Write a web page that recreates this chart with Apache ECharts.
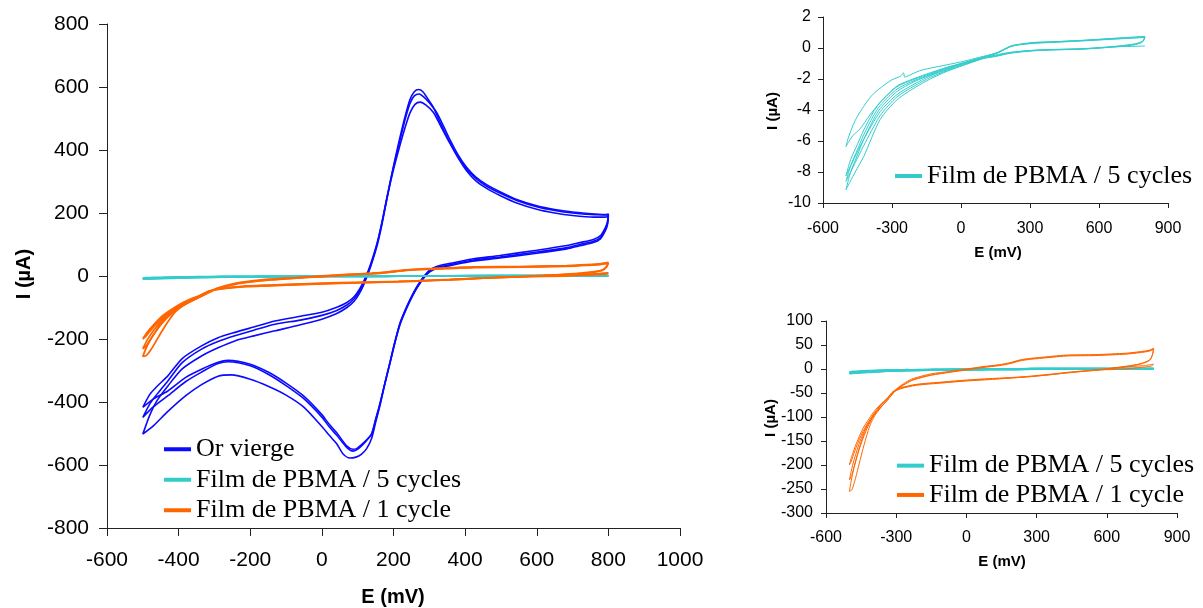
<!DOCTYPE html>
<html>
<head>
<meta charset="utf-8">
<script src="https://cdn.jsdelivr.net/npm/echarts@6/dist/echarts.min.js"></script>
<style>
html,body{margin:0;padding:0;background:#fff;}
#chart{width:1203px;height:608px;}
</style>
</head>
<body>
<div id="chart"></div>
<script>
// ---------- DATA (E in mV, I in µA) ----------
const seriesNames = ['Or vierge', 'Film de PBMA / 5 cycles', 'Film de PBMA / 1 cycle'];

const mainXTicks = { min: -600, max: 1000, interval: 200 };
const mainYTicks = { min: -800, max: 800, interval: 200 };
const smallXTicks = { min: -600, max: 900, interval: 300 };
const topYTicks = { min: -10, max: 2, interval: 2 };
const botYTicks = { min: -300, max: 100, interval: 50 };

// Or vierge - three cycles
const orCycle1 = [[-500,-502],[-480,-440],[-460,-395],[-430,-349],[-390,-295],[-336,-254],[-290,-228],[-243,-206],[-190,-190],[-131,-174],[-60,-155],[0,-137],[40,-120],[70,-100],[90,-80],[105,-55],[118,-25],[130,10],[142,50],[155,100],[168,165],[180,235],[192,305],[205,375],[218,440],[232,505],[246,560],[258,585],[270,592],[282,585],[296,562],[311,536],[330,488],[358,423],[380,378],[404,340],[430,310],[460,285],[500,262],[544,240],[600,220],[650,208],[700,200],[760,195],[790,195],[800,197],
  [797,170],[790,150],[778,128],[758,116],[720,106],[684,97],[600,82],[497,65],[420,54],[358,40],[320,30],[300,18],[287,2],[276,-15],[262,-40],[246,-75],[232,-110],[218,-150],[204,-208],[190,-275],[176,-340],[162,-412],[150,-465],[139,-515],[125,-548],[110,-566],[95,-575],[78,-578],[60,-566],[41,-532],[20,-505],[0,-478],[-52,-415],[-100,-378],[-150,-350],[-200,-328],[-252,-314],[-290,-318],[-336,-345],[-380,-380],[-430,-430],[-470,-475],[-500,-502]];
const orCycle2 = [[-500,-449],[-480,-405],[-460,-375],[-430,-333],[-390,-275],[-336,-232],[-290,-208],[-243,-190],[-190,-172],[-131,-153],[-60,-140],[0,-125],[40,-110],[70,-92],[90,-72],[105,-48],[118,-18],[130,15],[142,55],[155,105],[168,170],[180,240],[192,305],[205,370],[218,430],[232,495],[246,548],[258,572],[272,578],[285,568],[300,550],[320,520],[340,475],[358,432],[380,385],[404,345],[430,314],[460,290],[500,266],[544,243],[600,223],[650,211],[700,203],[760,197],[790,194],[800,194],
  [797,165],[790,145],[778,122],[758,110],[720,100],[684,90],[600,76],[497,60],[420,50],[358,36],[320,27],[300,15],[287,0],[276,-17],[262,-42],[246,-77],[232,-112],[218,-152],[204,-210],[190,-275],[176,-340],[162,-405],[150,-455],[139,-500],[125,-522],[110,-540],[97,-552],[87,-556],[70,-545],[41,-505],[20,-478],[0,-448],[-52,-388],[-100,-348],[-150,-312],[-200,-285],[-262,-272],[-290,-278],[-336,-305],[-380,-335],[-430,-380],[-470,-415],[-500,-449]];
const orCycle3 = [[-500,-417],[-480,-375],[-460,-350],[-430,-317],[-390,-262],[-336,-222],[-290,-196],[-243,-179],[-190,-162],[-131,-143],[-60,-128],[0,-115],[40,-100],[70,-84],[90,-66],[105,-42],[118,-14],[130,18],[142,58],[155,108],[168,172],[180,238],[192,300],[205,360],[218,415],[232,470],[246,518],[260,545],[275,552],[290,543],[311,520],[330,480],[358,420],[380,376],[404,334],[430,302],[460,278],[500,254],[544,232],[600,212],[650,200],[700,192],[760,187],[790,187],[800,190],
  [797,160],[790,140],[778,118],[758,106],[720,96],[684,86],[600,72],[497,57],[420,47],[358,33],[320,24],[300,12],[287,-3],[276,-20],[262,-45],[246,-80],[232,-115],[218,-155],[204,-212],[190,-278],[176,-342],[162,-408],[150,-458],[139,-503],[125,-520],[110,-536],[97,-548],[87,-550],[70,-540],[41,-497],[20,-470],[0,-440],[-52,-380],[-100,-340],[-150,-305],[-200,-280],[-262,-268],[-290,-274],[-336,-296],[-380,-322],[-430,-365],[-470,-390],[-500,-417]];

// Film de PBMA / 5 cycles
const cyanCycle1 = [[800,0.75],[678,0.64],[533,0.49],[400,0.40],[316,0.36],[243,0.20],[214,0.08],[156,-0.32],[80,-0.60],[11,-0.86],[-60,-1.08],[-134,-1.30],[-180,-1.47],[-235,-1.83],[-245,-1.88],[-250,-1.60],[-264,-1.83],[-300,-2.05],[-351,-2.58],[-390,-3.10],[-423,-3.77],[-450,-4.40],[-470,-5.00],[-490,-5.80],[-500,-6.35],
  [-490,-6.10],[-470,-5.65],[-438,-5.20],[-400,-4.40],[-351,-3.50],[-278,-2.45],[-200,-1.95],[-134,-1.60],[-60,-1.25],[11,-0.97],[80,-0.70],[150,-0.45],[214,-0.28],[300,-0.17],[389,-0.11],[533,-0.05],[678,0.08],[760,0.11],[800,0.13]];
const cyanCycle2 = [[800,0.70],[790,0.45],[760,0.28],[678,0.12],[533,-0.04],[389,-0.10],[300,-0.16],[214,-0.30],[150,-0.50],[98,-0.62],[11,-1.05],[-60,-1.40],[-134,-1.80],[-200,-2.30],[-278,-3.00],[-351,-4.10],[-423,-5.90],[-460,-7.00],[-500,-8.24],
  [-480,-7.20],[-450,-6.20],[-423,-5.30],[-380,-4.10],[-351,-3.50],[-278,-2.50],[-200,-2.00],[-134,-1.65],[-60,-1.25],[11,-0.95],[80,-0.65],[156,-0.30],[214,0.12],[243,0.22],[316,0.34],[400,0.40],[533,0.50],[678,0.62],[800,0.72]];
const cyanCycle3 = [[800,0.72],[790,0.42],[760,0.25],[678,0.10],[533,-0.06],[389,-0.12],[300,-0.18],[214,-0.32],[150,-0.52],[98,-0.65],[11,-1.08],[-60,-1.45],[-134,-1.90],[-200,-2.42],[-278,-3.15],[-351,-4.35],[-423,-6.30],[-460,-7.40],[-500,-8.60],
  [-480,-7.60],[-450,-6.55],[-423,-5.60],[-380,-4.35],[-351,-3.70],[-278,-2.65],[-200,-2.08],[-134,-1.70],[-60,-1.30],[11,-0.98],[80,-0.67],[156,-0.32],[214,0.10],[243,0.20],[316,0.32],[400,0.38],[533,0.48],[678,0.60],[800,0.70]];
const cyanCycle4 = [[800,0.70],[790,0.40],[760,0.22],[678,0.08],[533,-0.07],[389,-0.13],[300,-0.20],[214,-0.34],[150,-0.55],[98,-0.68],[11,-1.12],[-60,-1.50],[-134,-2.00],[-200,-2.55],[-278,-3.34],[-351,-4.60],[-423,-7.00],[-460,-8.00],[-500,-9.14],
  [-480,-8.00],[-450,-6.90],[-423,-5.90],[-380,-4.60],[-351,-3.90],[-278,-2.80],[-200,-2.15],[-134,-1.75],[-60,-1.35],[11,-1.00],[80,-0.70],[156,-0.34],[214,0.08],[243,0.18],[316,0.30],[400,0.36],[533,0.46],[678,0.58],[800,0.68]];

// Film de PBMA / 1 cycle
const orangeCycle1 = [[620,2],[700,5],[760,7],[800,10],[790,6],[740,3],[680,0],[570,-2],[450,-7],[356,-12],[270,-16],[214,-18],[100,-21],[0,-24],[-100,-28],[-214,-33],[-280,-40],[-314,-48],[-340,-62],[-370,-75],[-400,-92],[-442,-124],[-470,-155],[-490,-182],[-500,-200],
  [-492,-192],[-480,-175],[-462,-152],[-440,-128],[-415,-108],[-390,-92],[-365,-79],[-340,-66],[-300,-42],[-260,-28],[-228,-20],[-150,-10],[-71,-5],[0,0],[71,5],[140,9],[185,13],[230,19],[270,22],[313,24],[427,29],[550,30],[684,33],[740,36],[780,39],[800,43]];
const orangeCycle2 = [[800,43],[795,30],[783,19],[750,12],[712,8],[640,3],[570,-1],[450,-6],[356,-11],[270,-15],[214,-17],[100,-20],[0,-23],[-100,-27],[-214,-32],[-280,-39],[-314,-47],[-340,-62],[-370,-77],[-400,-96],[-430,-122],[-460,-158],[-485,-198],[-500,-231],
  [-490,-222],[-478,-200],[-462,-172],[-445,-145],[-425,-120],[-400,-100],[-370,-82],[-340,-66],[-300,-43],[-260,-30],[-228,-22],[-150,-12],[-71,-6],[0,-1],[71,4],[140,8],[185,12],[230,18],[270,21],[313,23],[427,28],[550,29],[684,32],[740,35],[780,38],[800,42]];
const orangeCycle3 = [[800,42],[795,29],[783,18],[750,11],[712,7],[640,2],[570,-2],[450,-7],[356,-12],[270,-16],[214,-18],[100,-22],[0,-25],[-100,-29],[-214,-34],[-280,-41],[-314,-49],[-340,-62],[-370,-79],[-400,-100],[-430,-130],[-460,-170],[-485,-215],[-500,-255],
  [-490,-252],[-478,-235],[-462,-205],[-445,-172],[-428,-142],[-410,-115],[-390,-96],[-365,-80],[-340,-66],[-300,-44],[-260,-31],[-228,-23],[-150,-13],[-71,-7],[0,-2],[71,3],[140,7],[185,11],[230,17],[270,20],[313,22],[427,27],[550,28],[684,31],[740,34],[780,37],[800,41]];

// ---------- CHART ----------
const BLUE = '#0a0aff', CYAN = '#33cccc', ORANGE = '#ff6600';
const sans = 'Liberation Sans, Arial, sans-serif';
const serif = 'Liberation Serif, Times New Roman, serif';
const fmt = v => String(v);

const series = [];
function addLoops(loops, name, color, width, g) {
  loops.forEach(d => series.push({
    type: 'line', name: name, data: d, xAxisIndex: g, yAxisIndex: g,
    symbol: 'none', showSymbol: false, smooth: 0.25, silent: true,
    lineStyle: { color: color, width: width }, itemStyle: { color: color }
  }));
}
addLoops([orCycle1, orCycle2, orCycle3], seriesNames[0], BLUE, 1.6, 0);
addLoops([cyanCycle1, cyanCycle2, cyanCycle3, cyanCycle4], seriesNames[1], CYAN, 2, 0);
addLoops([orangeCycle1, orangeCycle2, orangeCycle3], seriesNames[2], ORANGE, 1.8, 0);
addLoops([cyanCycle1, cyanCycle2, cyanCycle3, cyanCycle4], seriesNames[1], CYAN, 1, 1);
addLoops([cyanCycle1, cyanCycle2, cyanCycle3, cyanCycle4], seriesNames[1], CYAN, 2, 2);
addLoops([orangeCycle1, orangeCycle2, orangeCycle3], seriesNames[2], ORANGE, 1, 2);

function xAxis(t, g, fs, margin, tick) {
  return { type: 'value', gridIndex: g, min: t.min, max: t.max, interval: t.interval,
    splitLine: { show: false },
    axisLine: { onZero: false, lineStyle: { color: '#222', width: 1 } },
    axisTick: { show: true, length: tick, lineStyle: { color: '#222' } },
    axisLabel: { formatter: fmt, fontFamily: sans, fontSize: fs, color: '#000', margin: margin } };
}
function yAxis(t, g, fs, margin, tick) {
  return { type: 'value', gridIndex: g, min: t.min, max: t.max, interval: t.interval,
    splitLine: { show: false },
    axisLine: { show: true, onZero: false, lineStyle: { color: '#222', width: 1 } },
    axisTick: { show: true, length: tick, lineStyle: { color: '#222' } },
    axisLabel: { formatter: fmt, fontFamily: sans, fontSize: fs, color: '#000', margin: margin } };
}

function title(text, x, y, fs, rot) {
  return { type: 'text', x: x, y: y, rotation: rot || 0,
    style: { text: text, font: 'bold ' + fs + 'px ' + sans, fill: '#000', textAlign: 'center', textVerticalAlign: 'middle' } };
}

const legendCommon = { orient: 'vertical', padding: 0, itemGap: 0, icon: 'rect', itemWidth: 27, itemHeight: 4, selectedMode: false };

const option = {
  animation: false,
  backgroundColor: '#fff',
  grid: [
    { left: 107, top: 24, width: 573, height: 504 },
    { left: 823, top: 17, width: 345, height: 186 },
    { left: 826, top: 321, width: 351, height: 192 }
  ],
  xAxis: [ xAxis(mainXTicks, 0, 21, 22, 8), xAxis(smallXTicks, 1, 16, 18, 5), xAxis(smallXTicks, 2, 16, 17, 5) ],
  yAxis: [ yAxis(mainYTicks, 0, 21, 18, 8), yAxis(topYTicks, 1, 16, 12, 5), yAxis(botYTicks, 2, 16, 13, 5) ],
  legend: [
    Object.assign({ left: 164, top: 434, data: seriesNames,
      textStyle: { fontFamily: serif, fontSize: 26, color: '#000', lineHeight: 30.5 } }, legendCommon),
    Object.assign({ left: 895, top: 161, data: [seriesNames[1]],
      textStyle: { fontFamily: serif, fontSize: 26, color: '#000', lineHeight: 30 } }, legendCommon),
    Object.assign({ left: 897, top: 451, data: [seriesNames[1], seriesNames[2]],
      textStyle: { fontFamily: serif, fontSize: 26, color: '#000', lineHeight: 29.3 } }, legendCommon)
  ],
  graphic: [
    title('E (mV)', 393, 597, 20),
    title('I (µA)', 24, 274, 20, Math.PI / 2),
    title('E (mV)', 998, 253, 15),
    title('I (µA)', 773, 111, 15, Math.PI / 2),
    title('E (mV)', 1002, 562, 15),
    title('I (µA)', 771, 418, 15, Math.PI / 2)
  ],
  series: series
};

const chart = echarts.init(document.getElementById('chart'), null, { renderer: 'canvas' });
chart.setOption(option);
</script>
</body>
</html>
